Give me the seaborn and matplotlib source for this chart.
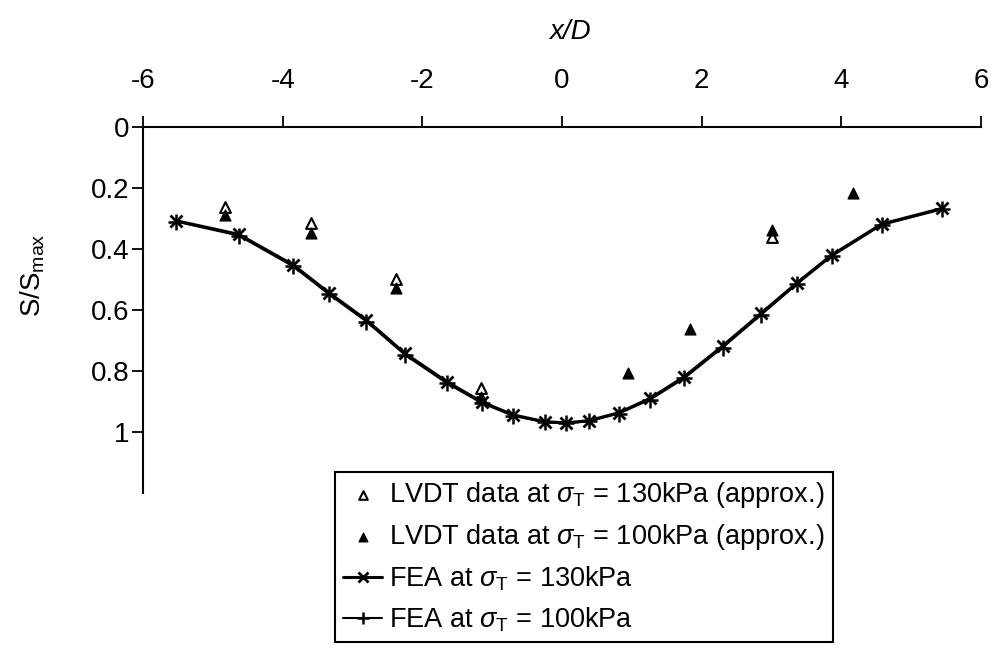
import matplotlib
matplotlib.use("Agg")
import matplotlib.pyplot as plt
import seaborn as sns

# FEA curves (x/D, S/Smax)
x_fea = [-5.53, -4.63, -3.85, -3.34, -2.80, -2.25, -1.65, -1.15, -0.70, -0.25, 0.06,
         0.38, 0.81, 1.26, 1.75, 2.30, 2.85, 3.36, 3.86, 4.58, 5.44]
s_fea_130 = [0.307, 0.352, 0.452, 0.543, 0.633, 0.742, 0.835, 0.901, 0.944, 0.966, 0.970,
             0.963, 0.937, 0.890, 0.819, 0.718, 0.611, 0.512, 0.420, 0.318, 0.267]
s_fea_100 = [0.310, 0.356, 0.457, 0.548, 0.638, 0.747, 0.840, 0.905, 0.947, 0.968, 0.972,
             0.965, 0.940, 0.894, 0.824, 0.723, 0.616, 0.516, 0.424, 0.321, 0.270]

# LVDT measurements
x_lvdt_130 = [-4.83, -3.60, -2.38, -1.16, 3.00]
s_lvdt_130 = [0.261, 0.316, 0.499, 0.857, 0.362]
x_lvdt_100 = [-4.83, -3.60, -2.38, -1.16, 0.94, 1.83, 3.00, 4.16]
s_lvdt_100 = [0.289, 0.349, 0.529, 0.884, 0.806, 0.663, 0.338, 0.215]

x_ticks = [-6, -4, -2, 0, 2, 4, 6]
x_tick_labels = ["-6", "-4", "-2", "0", "2", "4", "6"]
y_ticks = [0, 0.2, 0.4, 0.6, 0.8, 1.0]
y_tick_labels = ["0", "0.2", "0.4", "0.6", "0.8", "1"]

sns.set_style("ticks")
plt.rcParams["font.family"] = ["Liberation Sans", "DejaVu Sans"]
plt.rcParams["mathtext.fontset"] = "custom"
plt.rcParams["mathtext.rm"] = "Liberation Sans"
plt.rcParams["mathtext.it"] = "Liberation Sans:italic"
plt.rcParams["axes.unicode_minus"] = False
for key in ["text.color", "axes.labelcolor", "xtick.color", "ytick.color"]:
    plt.rcParams[key] = "black"

fig = plt.figure(figsize=(9.91, 6.61), dpi=100)
ax = fig.add_axes([143 / 991, 1 - 493 / 661, 838 / 991, 366 / 661])

sns.scatterplot(x=x_lvdt_130, y=s_lvdt_130, marker="^", s=60, color="white",
                edgecolor="black", linewidth=1.5, zorder=4,
                label=r"LVDT data at $\sigma_\mathrm{T}$ = 130kPa (approx.)", ax=ax)
sns.scatterplot(x=x_lvdt_100, y=s_lvdt_100, marker="^", s=60, color="black",
                edgecolor="black", linewidth=1.0, zorder=4,
                label=r"LVDT data at $\sigma_\mathrm{T}$ = 100kPa (approx.)", ax=ax)
sns.lineplot(x=x_fea, y=s_fea_130, color="black", linewidth=2.2, marker="x",
             markersize=9, markeredgewidth=2, markeredgecolor="black", sort=False,
             label=r"FEA at $\sigma_\mathrm{T}$ = 130kPa", ax=ax)
sns.lineplot(x=x_fea, y=s_fea_100, color="black", linewidth=1.5, marker="+",
             markersize=11, markeredgewidth=1.8, markeredgecolor="black", sort=False,
             label=r"FEA at $\sigma_\mathrm{T}$ = 100kPa", ax=ax)

ax.set_xlim(-6, 6)
ax.set_ylim(1.2, 0)
ax.xaxis.tick_top()
ax.xaxis.set_label_position("top")
ax.set_xticks(x_ticks)
ax.set_xticklabels(x_tick_labels)
ax.set_yticks(y_ticks)
ax.set_yticklabels(y_tick_labels)
ax.tick_params(axis="x", direction="out", length=8, width=1.3, pad=16, labelsize=20,
               colors="black")
ax.tick_params(axis="y", direction="out", length=8, width=1.3, pad=2, labelsize=20,
               colors="black")

for side in ["right", "bottom"]:
    ax.spines[side].set_visible(False)
for side in ["top", "left"]:
    ax.spines[side].set_linewidth(1.5)
    ax.spines[side].set_color("black")

ax.set_xlabel("x/D", fontsize=20, style="italic")
ax.xaxis.set_label_coords(0.509, 1.24)
ax.set_ylabel(r"$\mathregular{S/S_{max}}$", fontsize=20)
ax.yaxis.set_label_coords(-0.115, 0.596)

leg = ax.legend(loc="upper left", bbox_to_anchor=(335 / 991, 1 - 472 / 661),
                bbox_transform=fig.transFigure, borderaxespad=0, fontsize=19.5,
                frameon=True, fancybox=False, edgecolor="black", framealpha=1,
                handlelength=1.45, handletextpad=0.25, labelspacing=0.45,
                borderpad=0.3, markerscale=0.8)
leg.get_frame().set_linewidth(1.5)

fig.savefig("out.png", dpi=100)
